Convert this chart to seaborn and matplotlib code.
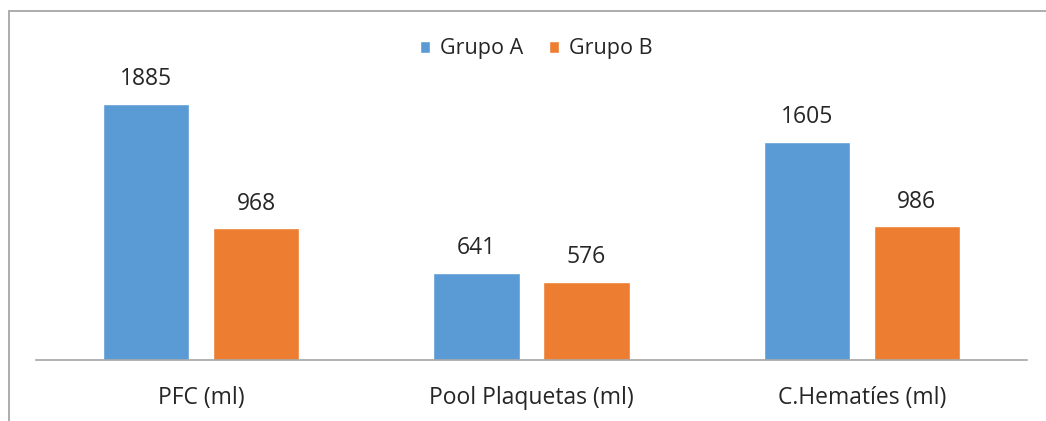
import matplotlib
matplotlib.use("Agg")
import matplotlib.pyplot as plt
from matplotlib.lines import Line2D
import seaborn as sns
import pandas as pd

categories = ["PFC (ml)", "Pool Plaquetas (ml)", "C.Hematíes (ml)"]
grupo_a = [1885, 641, 1605]
grupo_b = [968, 576, 986]
series = ["Grupo A", "Grupo B"]
colors = ["#5B9BD5", "#ED7D31"]

df = pd.DataFrame({
    "categoria": categories * 2,
    "valor": grupo_a + grupo_b,
    "grupo": [series[0]] * 3 + [series[1]] * 3,
})

sns.set_theme(style="white")
plt.rcParams["font.family"] = ["Open Sans", "DejaVu Sans"]
text_color = "#262626"

W, H = 1046, 421
fig = plt.figure(figsize=(W / 100, H / 100), dpi=100)
# axes placed in pixel terms: x 36..1027, baseline at y=360, top at y=88
ax = fig.add_axes([36 / W, (H - 360) / H, (1027 - 36) / W, (360 - 88.2) / H])

sns.barplot(data=df, x="categoria", y="valor", hue="grupo", order=categories,
            hue_order=series, palette=colors, width=0.666, gap=0.218,
            saturation=1, ax=ax, legend=True)

ax.set_xlim(-0.5, 2.5)
ax.set_ylim(0, 2000)
ax.set_xlabel("")
ax.set_ylabel("")
ax.set_yticks([])
for s in ["top", "right", "left"]:
    ax.spines[s].set_visible(False)
ax.spines["bottom"].set_color("#A6A6A6")
ax.spines["bottom"].set_linewidth(1.2)
ax.tick_params(axis="x", length=0, pad=19, labelsize=16.5, labelcolor=text_color)

for cont in ax.containers:
    ax.bar_label(cont, labels=[f"{int(v)}" for v in cont.datavalues],
                 padding=9, fontsize=16.5, color=text_color)

sns.move_legend(ax, "upper center", bbox_to_anchor=(536 / W, 0.955),
                bbox_transform=fig.transFigure, ncol=2, frameon=False,
                title=None, fontsize=15.5, handlelength=0.47, handleheight=0.47,
                handletextpad=0.45, columnspacing=1.2, labelcolor=text_color)

# outer chart frame (top and left edges)
frame_kw = dict(color="#A6A6A6", linewidth=1.3, transform=None)
fig.add_artist(Line2D([8.5, W], [H - 10.5, H - 10.5], **frame_kw))
fig.add_artist(Line2D([8.5, 8.5], [0, H - 10.5], **frame_kw))

fig.savefig("out.png", dpi=100)
